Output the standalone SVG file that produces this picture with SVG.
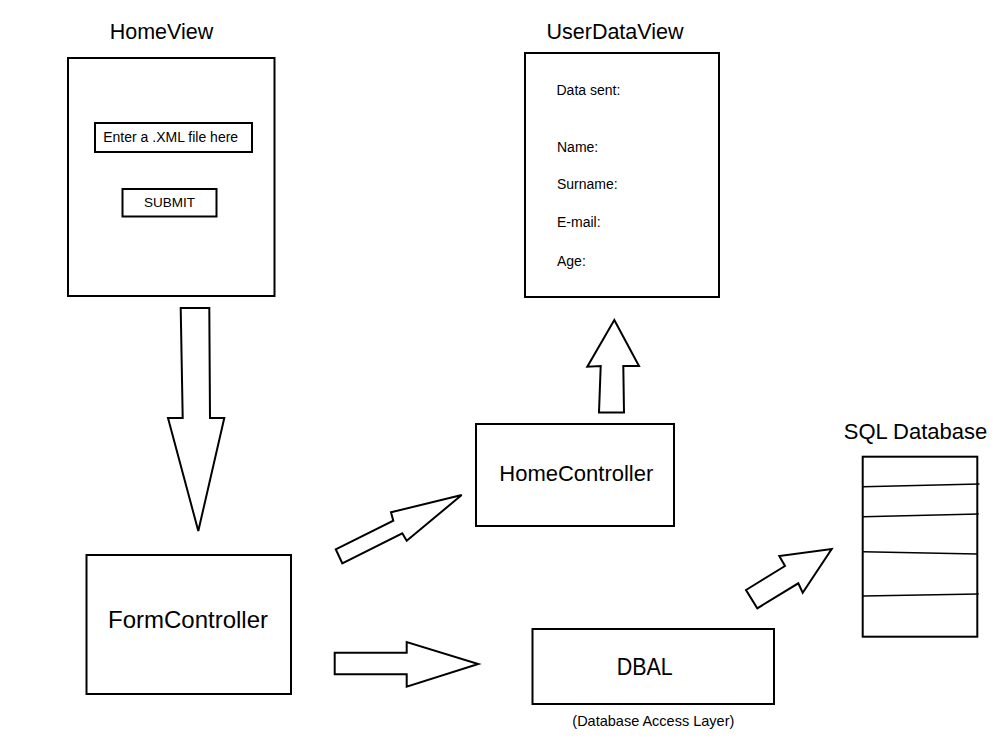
<svg xmlns="http://www.w3.org/2000/svg" width="1000" height="750" viewBox="0 0 1000 750">
<style>
  .box { fill: #fff; stroke: #000; stroke-width: 2; }
  .arrow { fill: #fff; stroke: #000; stroke-width: 2; stroke-linejoin: miter; }
  .row { stroke: #000; stroke-width: 1.6; fill: none; }
  text { font-family: "Liberation Sans", Arial, sans-serif; fill: #000; }
  .title { font-size: 21.5px; text-anchor: middle; }
  .big { font-size: 22px; text-anchor: middle; }
  .small { font-size: 14px; }
  .mid { text-anchor: middle; }
</style>
<rect width="1000" height="750" fill="#fff"/>

<g id="HomeView">
  <text class="title" x="161.5" y="39">HomeView</text>
  <rect class="box" x="68" y="58" width="206.5" height="238"/>
  <rect class="box" x="95" y="123" width="157" height="29"/>
  <text class="small mid" x="170.7" y="142.3">Enter a .XML file here</text>
  <rect class="box" x="122.5" y="189" width="94" height="27.5"/>
  <text class="small mid" x="169.5" y="206.7" style="font-size:13.5px">SUBMIT</text>
</g>

<g id="UserDataView">
  <text class="title" x="615" y="39">UserDataView</text>
  <rect class="box" x="525" y="53" width="194" height="244"/>
  <text class="small" x="556.5" y="95">Data sent:</text>
  <text class="small" x="557" y="151.5">Name:</text>
  <text class="small" x="557" y="189.3">Surname:</text>
  <text class="small" x="557" y="227.3">E-mail:</text>
  <text class="small" x="557" y="266">Age:</text>
</g>

<g id="HomeController">
  <rect class="box" x="476" y="424" width="198" height="102"/>
  <text class="big" x="576.3" y="480.7">HomeController</text>
</g>

<g id="FormController">
  <rect class="box" x="86.5" y="555" width="204.5" height="139"/>
  <text class="big" x="188" y="628.3" style="font-size:24px">FormController</text>
</g>

<g id="DBAL">
  <rect class="box" x="532.5" y="629" width="241.5" height="75"/>
  <text class="big" x="644.7" y="675" style="font-size:24px" textLength="56" lengthAdjust="spacingAndGlyphs">DBAL</text>
  <text class="mid" x="653.3" y="726" style="font-size:14.5px">(Database Access Layer)</text>
</g>

<g id="SQLDatabase">
  <text class="big" x="915.5" y="439.3">SQL Database</text>
  <rect class="box" x="862.7" y="456.7" width="114.6" height="180"/>
  <line class="row" x1="863" y1="486.7" x2="979.5" y2="484"/>
  <line class="row" x1="863" y1="516.7" x2="978.7" y2="514"/>
  <line class="row" x1="863" y1="551.7" x2="977" y2="554"/>
  <line class="row" x1="863" y1="596" x2="978.7" y2="594"/>
</g>

<g id="connectors">
  <polygon class="arrow" points="180.7,308 209.3,308 210,418 224.3,418 198.3,531 168,418 182.7,418"/>
  <polygon class="arrow" points="614.3,320 639,366 623.3,366 624,412.5 599,412.5 600.7,366 587.3,366.7"/>
  <polygon class="arrow" points="335.7,549.3 393.3,520.7 391,512.3 461.7,495 406.7,540.7 402.3,533.3 342.3,563.3"/>
  <polygon class="arrow" points="334.7,652.7 406.7,652.7 406.7,642 478.3,664 406.7,686.7 406.7,674.3 334.7,674.3"/>
  <polygon class="arrow" points="746,590 785,566 779.3,556 831.7,549 802.7,592.7 798.3,583.3 757.3,608.3"/>
</g>
</svg>
